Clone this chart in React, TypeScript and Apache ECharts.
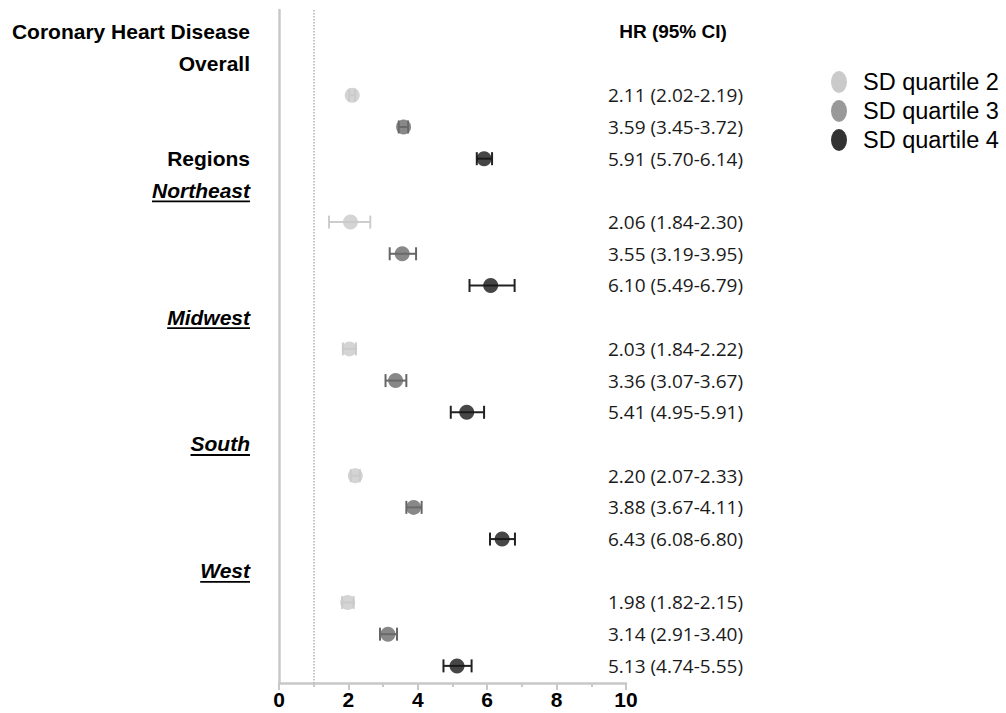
import React, { useEffect, useRef } from "react";
import * as echarts from "echarts";

// ---------- data ----------
const titleLabel = "Coronary Heart Disease";
const regionsLabel = "Regions";
const headerLabel = "HR (95% CI)";
const groupLabels = ["Overall", "Northeast", "Midwest", "South", "West"];
const seriesNames = ["SD quartile 2", "SD quartile 3", "SD quartile 4"];
const xTicks = [0, 2, 4, 6, 8, 10];

const q2HR = [2.11, 2.06, 2.03, 2.2, 1.98];
const q2Lo = [2.02, 1.84, 1.84, 2.07, 1.82];
const q2Hi = [2.19, 2.3, 2.22, 2.33, 2.15];
const q3HR = [3.59, 3.55, 3.36, 3.88, 3.14];
const q3Lo = [3.45, 3.19, 3.07, 3.67, 2.91];
const q3Hi = [3.72, 3.95, 3.67, 4.11, 3.4];
const q4HR = [5.91, 6.1, 5.41, 6.43, 5.13];
const q4Lo = [5.7, 5.49, 4.95, 6.08, 4.74];
const q4Hi = [6.14, 6.79, 5.91, 6.8, 5.55];
// whisker ends as drawn in the figure (the Northeast Q2 whisker is drawn wider than its printed CI)
const q2BarLo = [2.02, 1.44, 1.84, 2.07, 1.82];
const q2BarHi = [2.19, 2.63, 2.22, 2.33, 2.15];

const referenceHR = 1;

// ---------- styling ----------
const SANS = '"Liberation Sans", Arial, Helvetica, sans-serif';
const pointColors = ["#c9c9c9", "#6a6a6a", "#181818"];
const barColors = ["#cdcdcd", "#666666", "#222222"];
const legendColors = ["#bdbdbd", "#7f7f7f", "#000000"];
const axisGrey = "#c8c8c8";

const rowOf = (g: number, q: number) => 2 + 4 * g + q;
const headRowOf = (g: number) => (g === 0 ? 1 : 1 + 4 * g);

const fmt = (v: number) => v.toFixed(2);

const quart = [
  { hr: q2HR, lo: q2Lo, hi: q2Hi, barLo: q2BarLo, barHi: q2BarHi },
  { hr: q3HR, lo: q3Lo, hi: q3Hi, barLo: q3Lo, barHi: q3Hi },
  { hr: q4HR, lo: q4Lo, hi: q4Hi, barLo: q4Lo, barHi: q4Hi },
];

export default function App() {
  const ref = useRef<HTMLDivElement>(null);

  useEffect(() => {
    if (!ref.current) return;
    const chart = echarts.init(ref.current, null, { renderer: "svg" });

    const ctx = document.createElement("canvas").getContext("2d")!;
    const measure = (text: string, font: string) => {
      ctx.font = font;
      return ctx.measureText(text).width;
    };

    type LeftLabel = { row: number; text: string; region: boolean };
    const leftLabels: LeftLabel[] = [
      { row: 0, text: titleLabel, region: false },
      { row: 4, text: regionsLabel, region: false },
      ...groupLabels.map((t, g) => ({ row: headRowOf(g), text: t, region: g > 0 })),
    ];

    type HrText = { row: number; text: string };
    const hrTexts: HrText[] = [];
    groupLabels.forEach((_, g) => {
      quart.forEach((s, q) => {
        hrTexts.push({
          row: rowOf(g, q),
          text: `${fmt(s.hr[g])} (${fmt(s.lo[g])}-${fmt(s.hi[g])})`,
        });
      });
    });

    const series: any[] = [];

    quart.forEach((s, q) => {
      series.push({
        type: "custom",
        name: "bar" + q,
        z: 2,
        clip: false,
        data: groupLabels.map((_, g) => [s.barLo[g], s.barHi[g], rowOf(g, q)]),
        encode: { x: [0, 1], y: 2 },
        renderItem: (params: any, api: any) => {
          const a = api.coord([api.value(0), api.value(2)]);
          const b = api.coord([api.value(1), api.value(2)]);
          const y = a[1];
          const h = 6.5;
          const style = { stroke: barColors[q], lineWidth: 2 };
          return {
            type: "group",
            children: [
              { type: "line", shape: { x1: a[0], y1: y, x2: b[0], y2: y }, style },
              { type: "line", shape: { x1: a[0], y1: y - h, x2: a[0], y2: y + h }, style },
              { type: "line", shape: { x1: b[0], y1: y - h, x2: b[0], y2: y + h }, style },
            ],
          };
        },
      });
      series.push({
        type: "scatter",
        name: seriesNames[q],
        z: 3,
        symbol: "circle",
        symbolSize: 15,
        itemStyle: { color: pointColors[q] },
        data: groupLabels.map((_, g) => [s.hr[g], rowOf(g, q)]),
        markLine:
          q === 0
            ? {
                silent: true,
                symbol: ["none", "none"],
                label: { show: false },
                lineStyle: { type: "dotted", color: "#b3b3b3", width: 1.5 },
                data: [{ xAxis: referenceHR }],
              }
            : undefined,
      });
    });

    const labelFont = (region: boolean) =>
      `${region ? "italic " : ""}bold 21px ${SANS}`;

    series.push({
      type: "custom",
      name: "leftLabels",
      z: 4,
      clip: false,
      data: leftLabels.map((l) => [0, l.row]),
      encode: { x: 0, y: 1 },
      renderItem: (params: any, api: any) => {
        const l = leftLabels[params.dataIndex];
        const p = api.coord([api.value(0), api.value(1)]);
        const xr = p[0] - 29;
        const font = labelFont(l.region);
        const children: any[] = [
          {
            type: "text",
            x: xr,
            y: p[1],
            style: {
              text: l.text,
              font,
              fill: "#000",
              align: "right",
              verticalAlign: "middle",
            },
          },
        ];
        if (l.region) {
          const w = measure(l.text, font);
          children.push({
            type: "line",
            shape: { x1: xr - w, y1: p[1] + 11, x2: xr, y2: p[1] + 11 },
            style: { stroke: "#000", lineWidth: 1.8 },
          });
        }
        return { type: "group", children };
      },
    });

    series.push({
      type: "custom",
      name: "hrTexts",
      z: 4,
      clip: false,
      data: hrTexts.map((t) => [10, t.row]),
      encode: { x: 0, y: 1 },
      renderItem: (params: any, api: any) => {
        const t = hrTexts[params.dataIndex];
        const p = api.coord([api.value(0), api.value(1)]);
        return {
          type: "text",
          x: p[0] + 117,
          y: p[1],
          style: {
            text: t.text,
            fontSize: 19,
            fontFamily: "Open Sans",
            fill: "#1a1a1a",
            align: "right",
            verticalAlign: "middle",
          },
        };
      },
    });

    series.push({
      type: "custom",
      name: "header",
      z: 4,
      clip: false,
      data: [[10, 0]],
      encode: { x: 0, y: 1 },
      renderItem: (params: any, api: any) => {
        const p = api.coord([api.value(0), api.value(1)]);
        return {
          type: "text",
          x: p[0] + 47,
          y: p[1],
          style: {
            text: headerLabel,
            font: `bold 19px ${SANS}`,
            fill: "#000",
            align: "center",
            verticalAlign: "middle",
          },
        };
      },
    });

    chart.setOption({
      animation: false,
      backgroundColor: "#ffffff",
      grid: { left: 279, right: 380, top: 10, bottom: 30, containLabel: false },
      legend: {
        orient: "vertical",
        left: 826,
        top: 65,
        itemWidth: 16,
        itemHeight: 22,
        itemGap: 5,
        selectedMode: false,
        icon: "path://M8 0A8 11 0 1 1 8 22A8 11 0 1 1 8 0Z",
        textStyle: {
          fontSize: 23.5,
          fontFamily: SANS,
          color: "#000",
          padding: [0, 0, 0, 11],
        },
        data: seriesNames.map((n, i) => ({
          name: n,
          itemStyle: { color: legendColors[i] },
        })),
      },
      xAxis: {
        type: "value",
        min: xTicks[0],
        max: xTicks[xTicks.length - 1],
        interval: xTicks[1] - xTicks[0],
        axisLine: { show: true, onZero: false, lineStyle: { color: axisGrey, width: 2.5 } },
        axisTick: { show: true, length: 7, lineStyle: { color: axisGrey, width: 2 } },
        minorTick: { show: true, splitNumber: 2, length: 4, lineStyle: { color: axisGrey, width: 2 } },
        splitLine: { show: false },
        axisLabel: {
          fontSize: 21,
          fontWeight: "bold",
          fontFamily: SANS,
          color: "#000",
          margin: 6,
        },
      },
      yAxis: {
        type: "value",
        inverse: true,
        min: -0.69,
        max: 20.54,
        axisLine: { show: true, onZero: false, lineStyle: { color: axisGrey, width: 2.5 } },
        axisTick: { show: false },
        axisLabel: { show: false },
        splitLine: { show: false },
      },
      series,
    });

    return () => chart.dispose();
  }, []);

  return (
    <div
      ref={ref}
      style={{ position: "fixed", left: 0, top: 0, width: 1006, height: 713, background: "#fff" }}
    />
  );
}
